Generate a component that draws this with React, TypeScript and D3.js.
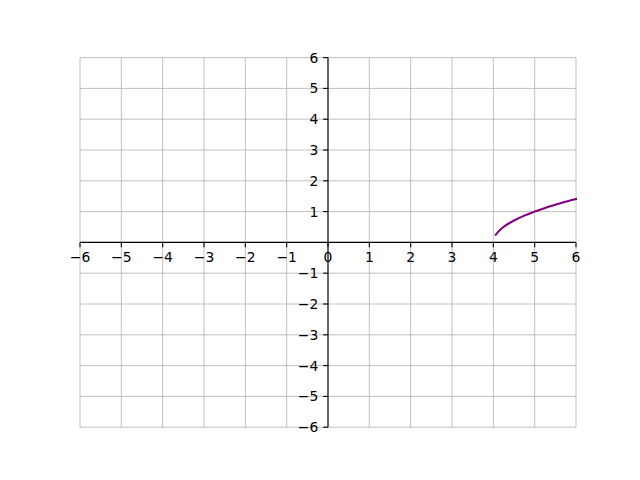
import React from "react";
import * as d3 from "d3";

const xTicks = [-6, -5, -4, -3, -2, -1, 0, 1, 2, 3, 4, 5, 6];
const yTicks = [-6, -5, -4, -3, -2, -1, 1, 2, 3, 4, 5, 6];
const curveX = [4.06, 4.1, 4.2, 4.3, 4.5, 4.75, 5, 5.25, 5.5, 5.75, 6];
const curveY = [0.25, 0.32, 0.45, 0.55, 0.71, 0.87, 1.0, 1.12, 1.22, 1.32, 1.41];

const W = 640, H = 480;
const L = 80, R = 576, T = 57.6, B = 427.2;

export default function App() {
  const x = d3.scaleLinear().domain([-6, 6]).range([L, R]);
  const y = d3.scaleLinear().domain([-6, 6]).range([B, T]);
  const pts: [number, number][] = curveX.map((v, i) => [v, curveY[i]]);
  const line = d3.line<[number, number]>().x(d => x(d[0])).y(d => y(d[1])).curve(d3.curveMonotoneX);
  const fmt = (v: number) => (v < 0 ? "\u2212" + Math.abs(v) : String(v));
  const tl = 4.86, pad = 4.86;
  const font = "DejaVu Sans, sans-serif";
  const fs = 13.9;
  return (
    <svg width={W} height={H} style={{ position: "absolute", left: 0, top: 0, background: "#fff" }}>
      <rect x={0} y={0} width={W} height={H} fill="#fff" />
      {xTicks.map(t => (
        <line key={"gx" + t} x1={x(t)} x2={x(t)} y1={T} y2={B} stroke="#b0b0b0" strokeWidth={0.8} />
      ))}
      {[...yTicks, 0].map(t => (
        <line key={"gy" + t} x1={L} x2={R} y1={y(t)} y2={y(t)} stroke="#b0b0b0" strokeWidth={0.8} />
      ))}
      <path d={line(pts) || ""} fill="none" stroke="#800080" strokeWidth={2.08} strokeLinecap="square" />
      <line x1={L} x2={R} y1={y(0)} y2={y(0)} stroke="#000" strokeWidth={1.1} />
      <line x1={x(0)} x2={x(0)} y1={T} y2={B} stroke="#000" strokeWidth={1.1} />
      {xTicks.map(t => (
        <g key={"xt" + t}>
          <line x1={x(t)} x2={x(t)} y1={y(0)} y2={y(0) + tl} stroke="#000" strokeWidth={1.1} />
          <text x={x(t)} y={y(0) + tl + pad + 10.2} textAnchor="middle" fontFamily={font} fontSize={fs} fill="#000">{fmt(t)}</text>
        </g>
      ))}
      {yTicks.map(t => (
        <g key={"yt" + t}>
          <line x1={x(0)} x2={x(0) - tl} y1={y(t)} y2={y(t)} stroke="#000" strokeWidth={1.1} />
          <text x={x(0) - tl - pad} y={y(t)} dy="0.36em" textAnchor="end" fontFamily={font} fontSize={fs} fill="#000">{fmt(t)}</text>
        </g>
      ))}
    </svg>
  );
}
